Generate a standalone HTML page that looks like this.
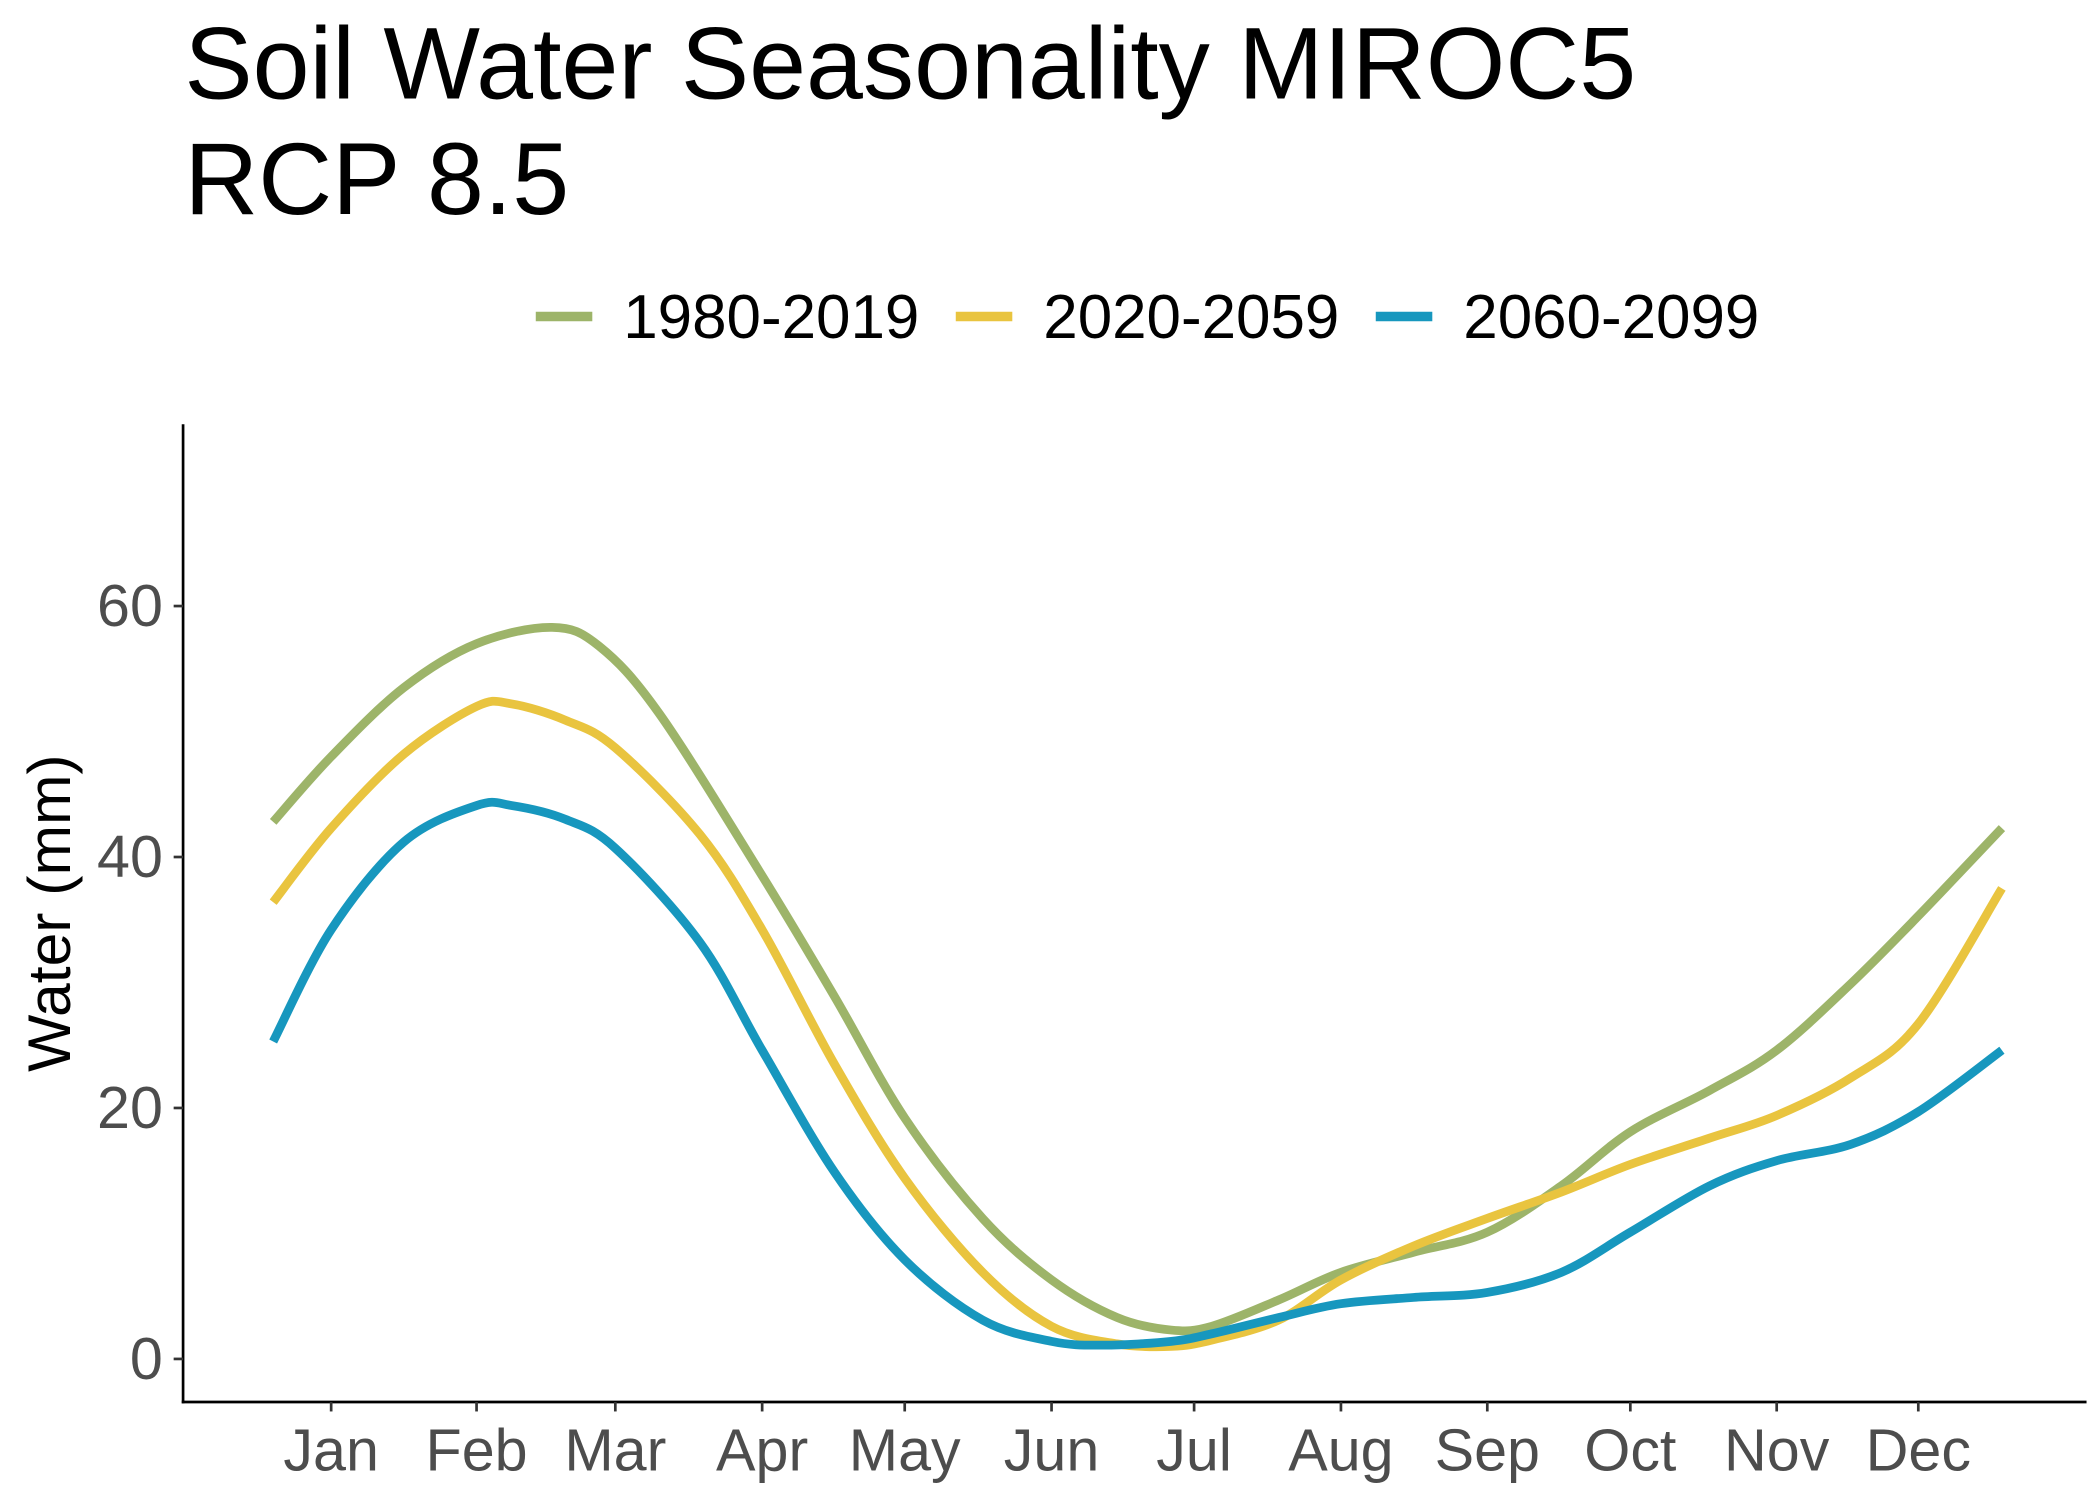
<!DOCTYPE html>
<html><head><meta charset="utf-8"><style>html,body{margin:0;padding:0;background:#fff}svg{display:block}</style></head>
<body>
<svg id="chart" width="2100" height="1499" viewBox="0 0 1560 1113" preserveAspectRatio="none" xmlns="http://www.w3.org/2000/svg" font-family="'Liberation Sans', sans-serif">
<rect width="1560" height="1113" fill="#fff"/>
<text x="137" y="73" font-size="76" fill="#000">Soil Water Seasonality MIROC5</text>
<text x="137" y="159" font-size="76" fill="#000">RCP 8.5</text>
<g font-size="46">
<line x1="398" y1="235" x2="440" y2="235" stroke="#9DB469" stroke-width="7"/><text x="463" y="251">1980-2019</text>
<line x1="710" y1="235" x2="752" y2="235" stroke="#E9C43F" stroke-width="7"/><text x="775" y="251">2020-2059</text>
<line x1="1022" y1="235" x2="1064" y2="235" stroke="#1797BE" stroke-width="7"/><text x="1087" y="251">2060-2099</text>
</g>
<line x1="136" y1="315" x2="136" y2="1042" stroke="#000" stroke-width="2"/>
<line x1="135" y1="1041" x2="1550" y2="1041" stroke="#000" stroke-width="2"/>
<text transform="translate(52,678) rotate(-90)" text-anchor="middle" font-size="45" fill="#000">Water (mm)</text>
<g id="axes"></g>
<g id="series"></g>
</svg>
<script>
const monthLabels=["Jan","Feb","Mar","Apr","May","Jun","Jul","Aug","Sep","Oct","Nov","Dec"];
const monthDays=[15,45.6,74.8,105.7,135.7,166.6,196.6,227.5,258.3,288.4,319.2,349];
const yTicks=[0,20,40,60];
const seriesNames=["1980-2019","2020-2059","2060-2099"];
const daysGreen=[2.8,15,30.3,45.6,61.5,71.4,84.1,105.7,120.9,135.7,152.1,166.6,180.4,191.8,200.3,214.4,227.5,242.8,258.3,273.9,288.4,305.1,319.2,334.8,349,366.6];
const valsGreen=[42.8,48,53.5,57,58.3,56.8,51.4,38.5,28.9,19.2,11.2,6.3,3.3,2.3,2.6,4.7,6.9,8.5,10.1,13.8,18.1,21.4,24.6,29.9,35.3,42.3];
const daysYellow=[2.8,15,30.3,45.6,53,64.3,74.8,92.6,105.7,120.9,135.7,152.1,166.6,180.4,191.8,200.3,214.4,227.5,242.8,258.3,273.9,288.4,305.1,319.2,334.8,349,366.6];
const valsYellow=[36.4,42.3,48.2,52,52.2,50.9,48.7,41.8,34.2,23.5,14.4,6.9,2.6,1.2,1.0,1.5,3.1,6.3,9.0,11.2,13.3,15.5,17.6,19.4,22.4,26.7,37.5];
const daysBlue=[2.8,15,30.3,45.6,53,64.3,74.8,92.6,105.7,120.9,135.7,152.1,166.6,177.6,191.8,200.3,214.4,227.5,242.8,258.3,273.9,288.4,305.1,319.2,334.8,349,366.6];
const valsBlue=[25.3,34.2,41.2,44.1,44.1,43,40.7,33.2,24.6,14.9,7.9,3.1,1.4,1.1,1.4,2.0,3.3,4.4,4.9,5.3,6.9,10.1,13.8,15.8,17.1,19.7,24.6];
const xs=d=>246+(d-15)*3.53;
const ys=v=>1009-v*9.317;
const NS="http://www.w3.org/2000/svg";
const axes=document.getElementById('axes');
yTicks.forEach(t=>{
  const l=document.createElementNS(NS,'line');
  l.setAttribute('x1',129);l.setAttribute('x2',136);l.setAttribute('y1',ys(t));l.setAttribute('y2',ys(t));l.setAttribute('stroke','#333');l.setAttribute('stroke-width',2);
  
  
  axes.appendChild(l);
  const tx=document.createElementNS(NS,'text');
  tx.setAttribute('x',121);tx.setAttribute('y',ys(t)+15);tx.setAttribute('text-anchor','end');tx.setAttribute('font-size',44);tx.setAttribute('fill','#4d4d4d');
  tx.textContent=t;
  
  
  axes.appendChild(tx);
});
monthDays.forEach((d,i)=>{
  const l=document.createElementNS(NS,'line');
  l.setAttribute('x1',xs(d));l.setAttribute('x2',xs(d));l.setAttribute('y1',1041);l.setAttribute('y2',1048);l.setAttribute('stroke','#333');l.setAttribute('stroke-width',2);
  
  
  axes.appendChild(l);
  const tx=document.createElementNS(NS,'text');
  tx.setAttribute('x',xs(d));tx.setAttribute('y',1092);tx.setAttribute('text-anchor','middle');tx.setAttribute('font-size',44);tx.setAttribute('fill','#4d4d4d');
  tx.textContent=monthLabels[i];
  
  
  axes.appendChild(tx);
});
function pathFor(days,vals){
  const p=days.map((d,i)=>[xs(d),ys(vals[i])]);
  let s='M'+p[0][0]+','+p[0][1];
  for(let i=0;i<p.length-1;i++){
    const p0=p[Math.max(0,i-1)],p1=p[i],p2=p[i+1],p3=p[Math.min(p.length-1,i+2)];
    const c1=[p1[0]+(p2[0]-p0[0])/6,p1[1]+(p2[1]-p0[1])/6];
    const c2=[p2[0]-(p3[0]-p1[0])/6,p2[1]-(p3[1]-p1[1])/6];
    s+=' C'+c1+' '+c2+' '+p2;
  }
  return s;
}
const sg=document.getElementById('series');
[[daysGreen,valsGreen,'#9DB469','series-1980-2019'],[daysYellow,valsYellow,'#E9C43F','series-2020-2059'],[daysBlue,valsBlue,'#1797BE','series-2060-2099']].forEach(s=>{
  const pa=document.createElementNS(NS,'path');
  pa.setAttribute('d',pathFor(s[0],s[1]));pa.setAttribute('fill','none');pa.setAttribute('stroke',s[2]);pa.setAttribute('stroke-width',6.5);
  
  
  sg.appendChild(pa);
});
</script>
</body></html>
